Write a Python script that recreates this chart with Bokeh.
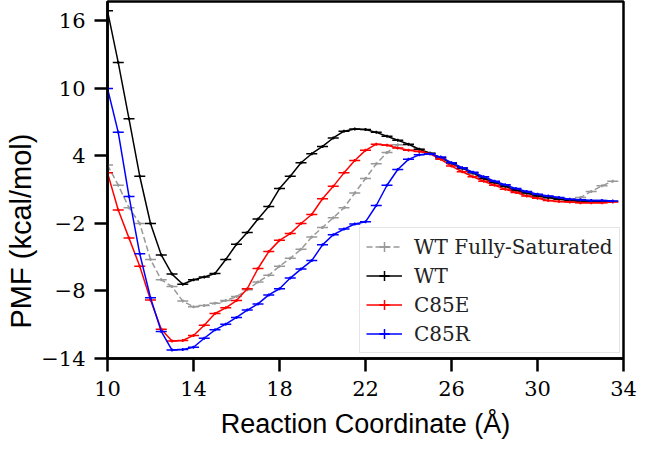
import math
from bokeh.plotting import figure
from bokeh.models import FixedTicker, Legend, LegendItem, Range1d, ColumnDataSource, Title
from bokeh.embed import file_html
from bokeh.resources import INLINE

# Reaction coordinate (Å)
rc = [10.0, 10.5, 11.0, 11.5, 12.0, 12.5, 13.0, 13.5, 14.0, 14.5, 15.0, 15.5,
      16.0, 16.5, 17.0, 17.5, 18.0, 18.5, 19.0, 19.5, 20.0, 20.5, 21.0, 21.5,
      22.0, 22.5, 23.0, 23.5, 24.0, 24.5, 25.0, 25.5, 26.0, 26.5, 27.0, 27.5,
      28.0, 28.5, 29.0, 29.5, 30.0, 30.5, 31.0, 31.5, 32.0, 32.5, 33.0, 33.5]

# PMF (kcal/mol)
wt_fs = [3.2, 1.4, -0.6, -2.0, -5.2, -7.0, -7.6, -8.9, -9.4, -9.3, -9.1, -8.85,
         -8.5, -7.9, -7.2, -6.6, -5.8, -5.1, -4.3, -3.2, -2.35, -1.5, -0.6, 0.7,
         2.0, 3.3, 4.3, 5.0, 5.0, 4.6, 4.25, 3.8, 3.3, 2.85, 2.4, 2.0,
         1.6, 1.25, 0.9, 0.65, 0.4, 0.25, 0.15, 0.1, 0.3, 0.85, 1.35, 1.75]
wt = [16.9, 12.3, 7.3, 2.2, -2.0, -4.8, -6.5, -7.4, -7.0, -6.75, -6.45, -5.2,
      -3.85, -2.8, -1.6, -0.5, 1.1, 2.2, 3.4, 4.2, 4.85, 5.6, 6.2, 6.4,
      6.35, 6.1, 5.75, 5.4, 5.05, 4.6, 4.25, 3.85, 3.35, 2.9, 2.5, 2.0,
      1.65, 1.3, 0.95, 0.7, 0.45, 0.3, 0.15, 0.05, 0.0, 0.0, -0.05, -0.05]
c85e = [2.5, -0.8, -3.3, -5.8, -8.8, -11.4, -12.45, -12.4, -11.95, -11.05, -10.0, -9.5,
        -8.85, -7.8, -6.0, -4.5, -3.5, -2.9, -2.0, -1.2, 0.2, 1.3, 2.5, 3.6,
        4.5, 5.05, 4.95, 4.7, 4.5, 4.4, 4.2, 3.7, 3.1, 2.6, 2.15, 1.75,
        1.4, 1.05, 0.75, 0.45, 0.25, 0.05, -0.05, -0.1, -0.15, -0.15, -0.15, -0.1]
c85r = [10.0, 6.1, 0.4, -4.7, -8.6, -11.6, -13.25, -13.2, -13.0, -12.2, -11.45, -10.95,
        -10.35, -9.7, -9.15, -8.35, -7.8, -6.85, -6.05, -5.3, -3.9, -3.0, -2.5, -2.05,
        -1.85, -0.4, 1.4, 2.8, 3.7, 4.1, 4.2, 3.9, 3.4, 2.95, 2.55, 2.15,
        1.75, 1.45, 1.1, 0.85, 0.6, 0.45, 0.3, 0.15, 0.1, 0.05, 0.05, 0.0]

series_names = ["WT Fully-Saturated", "WT", "C85E", "C85R"]
series_values = [wt_fs, wt, c85e, c85r]
series_colors = ["#999999", "#000000", "#ff0000", "#0000ff"]
series_dash = ["6 3", "solid", "solid", "solid"]

x_ticks = [10, 14, 18, 22, 26, 30, 34]
y_ticks = [-14, -8, -2, 4, 10, 16]

p = figure(frame_width=516, frame_height=357, x_range=Range1d(10, 34), y_range=Range1d(-14, 17.73),
           output_backend="svg", toolbar_location=None,
           min_border_left=104, min_border_right=16, min_border_top=1, min_border_bottom=93)

p.background_fill_color = "white"
p.border_fill_color = "white"
p.outline_line_color = "black"
p.outline_line_width = 2.5
p.grid.visible = False

items = []
for name, vals, col, dash in zip(series_names, series_values, series_colors, series_dash):
    src = ColumnDataSource(dict(x=rc, y=vals))
    ln = p.line("x", "y", source=src, line_color=col, line_width=1.5, line_dash=dash)
    caps = p.scatter("x", "y", source=src, marker="dash", size=11, line_color=col, line_width=1.5)
    bars = p.scatter("x", "y", source=src, marker="cross", size=3,
                     line_color=col, line_width=1.5)
    items.append(LegendItem(label=name, renderers=[ln, caps, bars]))

legend = Legend(items=items, location=(252, 5))
legend.label_text_font = "DejaVu Serif"
legend.label_text_font_size = "20px"
legend.label_text_color = "#222222"
legend.glyph_width = 36
legend.glyph_height = 25
legend.label_height = 25
legend.label_standoff = 12
legend.spacing = 4
legend.padding = 6
legend.border_line_color = "#cccccc"
legend.border_line_width = 1.5
legend.background_fill_alpha = 0.85
p.add_layout(legend)

for ax in (p.xaxis, p.yaxis):
    ax.axis_line_width = 2.5
    ax.axis_line_color = "black"
    ax.major_tick_line_width = 2.5
    ax.major_tick_line_color = "black"
    ax.major_tick_out = 13
    ax.major_tick_in = 0
    ax.minor_tick_line_color = None
    ax.major_label_text_font = "DejaVu Serif"
    ax.major_label_text_font_size = "21px"
    ax.major_label_text_color = "black"
    ax.major_label_standoff = 9

p.xaxis.ticker = FixedTicker(ticks=x_ticks)
p.yaxis.ticker = FixedTicker(ticks=y_ticks)
p.yaxis.major_label_overrides = {t: ("\u2212" + str(abs(t)) if t < 0 else str(t)) for t in y_ticks}

# axis titles as side-panel titles
ylab = Title(text="PMF (kcal/mol)", align="left", offset=30,
             text_font="Liberation Sans", text_font_size="29px",
             text_font_style="normal", text_color="black", standoff=4)
p.add_layout(ylab, "left")
xlab = Title(text="Reaction Coordinate (Å)", align="center",
             text_font="Liberation Sans", text_font_size="27px",
             text_font_style="normal", text_color="black", standoff=16)
p.add_layout(xlab, "below")

open("out.html", "w").write(file_html(p, INLINE))
